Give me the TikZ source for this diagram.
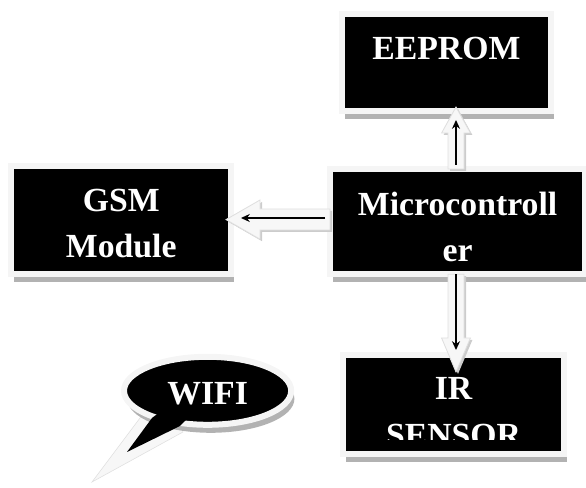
\documentclass[tikz,border=0pt]{standalone}
\usepackage{fontspec}
\setmainfont{Liberation Serif}
\usetikzlibrary{arrows.meta,calc,positioning,shadows,shapes.geometric}

\tikzset{
  blk/.style={draw=gray!8, line width=0.15cm, fill=black, inner sep=0pt, outer sep=0pt,
    drop shadow={shadow xshift=0.08cm, shadow yshift=-0.2cm, fill=black!30, opacity=1}},
  blktext/.style={text=white, font=\bfseries\fontsize{24}{33}\selectfont, align=center, inner sep=0pt, outer sep=0pt},
  fat/.style={fill=gray!6, draw=gray!25, line width=0.6pt,
    drop shadow={shadow xshift=0.05cm, shadow yshift=-0.05cm, fill=black!20, opacity=1}},
  wire/.style={line width=1.4pt, -{Stealth[length=0.22cm,width=0.2cm]}}
}

\begin{document}
\begin{tikzpicture}
\useasboundingbox (0,0) rectangle (14.65,12.2);
\node[blk, minimum width=5.23cm, minimum height=2.43cm] (eeprom) at (11.16,10.64) {};
\node[blk, minimum width=5.5cm, minimum height=2.7cm] (gsm) at (3.03,6.7) {};
\node[blk, minimum width=6.38cm, minimum height=2.63cm] (mcu) at (11.44,6.66) {};
\node[blk, minimum width=5.53cm, minimum height=2.48cm] (ir) at (11.34,2.09) {};

\node[blktext, below=0.575cm of eeprom.north] (eepromtxt) {EEPROM};
\node[blktext, below=0.575cm of gsm.north] (gsmtxt) {GSM\\Module};
\node[blktext, below=0.575cm of mcu.north] (mcutxt) {Microcontroll\\er};
\begin{scope}
\clip ([yshift=0.35cm]ir.south west) rectangle (ir.north east);
\node[blktext, below=0.575cm of ir.north] (irtxt) {IR\\SENSOR};
\end{scope}

\draw[fat] (8.25,6.975) -- (6.5,6.975) -- (6.5,7.2) -- (5.65,6.71) -- (6.5,6.22) -- (6.5,6.45) -- (8.25,6.45) -- cycle;
\draw[fat] (11.2,7.975) -- (11.2,8.875) -- (11.04,8.875) -- (11.4,9.525) -- (11.76,8.875) -- (11.6,8.875) -- (11.6,7.975) -- cycle;
\draw[fat] (11.2,5.345) -- (11.2,3.75) -- (11.04,3.75) -- (11.4,2.9) -- (11.76,3.75) -- (11.6,3.75) -- (11.6,5.345) -- cycle;

\draw[wire] ([xshift=-0.125cm,yshift=0.09cm]mcu.west) -- ([xshift=0.245cm,yshift=0.05cm]gsm.east);
\draw[wire] ([xshift=-0.04cm,yshift=0.1cm]mcu.north) -- ([xshift=0.24cm,yshift=-0.225cm]eeprom.south);
\draw[wire] ([xshift=-0.04cm]mcu.south) -- ([xshift=0.06cm,yshift=0.12cm]ir.north);

\draw[fill=gray!6, draw=gray!25] (3.575,1.85) -- (2.3,0.15) -- (4.575,1.4) -- (4.5,1.95) -- cycle;
\node[blk, ellipse, minimum width=4.18cm, minimum height=1.7cm] (wifi) at (5.19,2.43) {};
\fill (4.0,1.9) -- (3.8,1.75) -- (3.175,0.9) -- (4.5,1.55) -- (4.7,1.75) -- cycle;
\node[blktext] (wifitxt) at ([yshift=-0.08cm]wifi.center) {WIFI};
\end{tikzpicture}
\end{document}
